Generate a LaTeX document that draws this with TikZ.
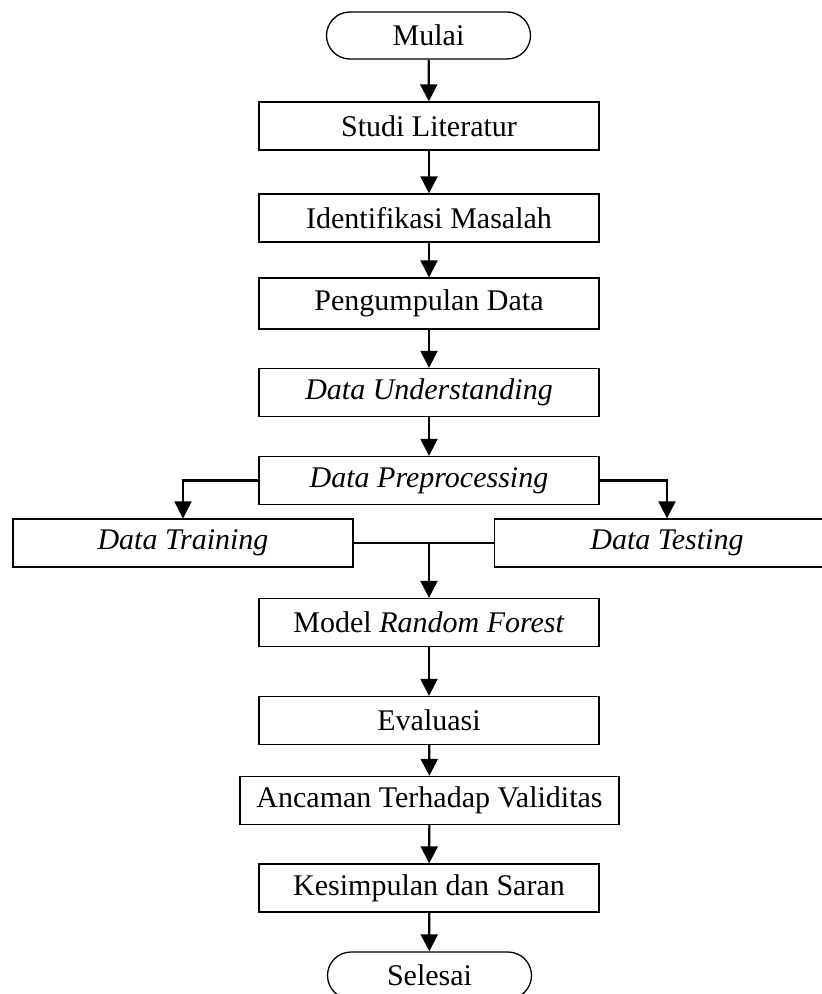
\documentclass[tikz,border=0pt]{standalone}
\usepackage{fontspec}
\setmainfont{Liberation Serif}
\usetikzlibrary{arrows.meta}

\begin{document}
\begin{tikzpicture}[x=0.5pt,y=-0.5pt,
      font=\fontsize{15}{18}\selectfont,
      proses/.style={draw,line width=0.65pt,minimum width=170pt,minimum height=24pt,inner sep=0pt},
      terminal/.style={draw,line width=0.65pt,rounded corners=11.75pt,minimum width=102pt,minimum height=23.5pt,inner sep=0pt},
      panah/.style={-{Triangle[width=8.5pt,length=8.5pt]},line width=1.1pt}
     ]
\clip (0,0) rectangle (822,994);
% alur utama
\node[terminal] (mulai) at (428.5,35.5) {Mulai};
\node[proses] (studi) at (429,126) {Studi Literatur};
\node[proses] (identifikasi) at (429,218) {Identifikasi Masalah};
\node[proses,minimum height=25.5pt] (pengumpulan) at (429,303.5) {Pengumpulan Data};
\node[proses] (understanding) at (429,392.5) {\textit{Data Understanding}};
\node[proses] (preproc) at (429,480.5) {\textit{Data Preprocessing}};
% cabang data
\node[proses] (training) at (183,543) {\textit{Data Training}};
\node[proses,minimum width=172.5pt] (testing) at (667,543) {\textit{Data Testing}};
\coordinate (gabung) at (429,543);
\node[proses] (model) at (429,622.5) {Model \textit{Random Forest}};
\node[proses] (evaluasi) at (429,720.5) {Evaluasi};
\node[proses,minimum width=189.5pt] (ancaman) at (429.5,800.5) {Ancaman Terhadap Validitas};
\node[proses] (kesimpulan) at (429,888) {Kesimpulan dan Saran};
\node[terminal] (selesai) at (429.5,975.5) {Selesai};

\draw[panah] (mulai) -- (studi);
\draw[panah] (studi) -- (identifikasi);
\draw[panah] (identifikasi) -- (pengumpulan);
\draw[panah] (pengumpulan) -- (understanding);
\draw[panah] (understanding) -- (preproc);
\draw[panah] (preproc.west) -| (training.north);
\draw[panah] (preproc.east) -| (testing.north);
\draw[line width=1.1pt] (training.east) -- (testing.west);
\draw[panah] (gabung) -- (model);
\draw[panah] (model) -- (evaluasi);
\draw[panah] (evaluasi) -- (ancaman);
\draw[panah] (ancaman) -- (kesimpulan);
\draw[panah] (kesimpulan) -- (selesai);
\end{tikzpicture}
\end{document}
